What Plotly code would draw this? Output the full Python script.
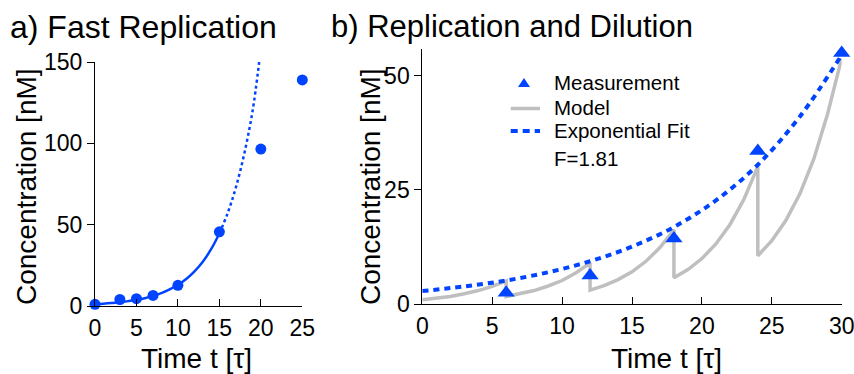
import plotly.graph_objects as go

W, H = 854, 374
FONT = "Liberation Sans, Arial, sans-serif"
BLUE = "#0044ff"
GRAY = "#bfbfbf"

# ---- a) Fast Replication ----
meas_a_t = [0, 3, 5, 7, 10, 15, 20, 25]
meas_a_c = [1.0, 4.0, 4.5, 6.5, 12.7, 45.6, 96.5, 139.0]

fit_a_t = [0, 1, 2, 3, 4, 5, 6, 7, 8, 9, 10, 11, 12, 13, 14, 15]
fit_a_c = [1.1, 1.4, 1.8, 2.3, 3.0, 3.8, 4.8, 6.2, 7.9, 10.2, 13.0, 16.6, 21.3, 27.2, 34.9, 44.6]

ext_a_t = [15, 16, 17, 18, 19, 19.8]
ext_a_c = [44.6, 57.1, 73.1, 93.6, 119.8, 150.0]

# ---- b) Replication and Dilution ----
meas_b_t = [6, 12, 18, 24, 30]
meas_b_c = [2.5, 6.3, 14.4, 33.5, 54.9]

model_t = [0, 1, 2, 3, 4, 5, 6,
           6, 7, 8, 9, 10, 11, 12,
           12, 13, 14, 15, 16, 17, 18,
           18, 19, 20, 21, 22, 23, 24,
           24, 25, 26, 27, 28, 29, 30]
model_c = [1.0, 1.3, 1.7, 2.3, 3.0, 3.9, 5.1,
           1.7, 2.3, 3.0, 4.0, 5.2, 6.9, 9.0,
           3.1, 4.1, 5.4, 7.1, 9.4, 12.4, 16.3,
           5.8, 7.6, 10.0, 13.2, 17.4, 22.9, 30.1,
           10.6, 13.9, 18.3, 24.1, 31.7, 41.7, 53.8]

expfit_t = [0, 3, 6, 9, 12, 15, 18, 21, 24, 27, 30]
expfit_c = [2.9, 3.9, 5.2, 7.0, 9.4, 12.6, 16.9, 22.7, 30.5, 41.0, 54.5]
growth_label = "F=1.81"
legend_labels = ["Measurement", "Model", "Exponential Fit"]


def px(x):
    return x / W


def py(y):
    return 1 - y / H


fig = go.Figure()

# panel a
fig.add_trace(go.Scatter(x=fit_a_t, y=fit_a_c, mode="lines", line=dict(color=BLUE, width=2.5, shape="spline"),
                         xaxis="x", yaxis="y", cliponaxis=False))
fig.add_trace(go.Scatter(x=ext_a_t, y=ext_a_c, mode="lines",
                         line=dict(color=BLUE, width=2.5, dash="3px,3px", shape="spline"),
                         xaxis="x", yaxis="y", cliponaxis=False))
fig.add_trace(go.Scatter(x=meas_a_t, y=meas_a_c, mode="markers", marker=dict(color=BLUE, size=11, symbol="circle"),
                         xaxis="x", yaxis="y", cliponaxis=False))

# panel b
fig.add_trace(go.Scatter(x=model_t, y=model_c, mode="lines", name=legend_labels[1],
                         line=dict(color=GRAY, width=3.5), xaxis="x2", yaxis="y2", cliponaxis=False))
fig.add_trace(go.Scatter(x=expfit_t, y=expfit_c, mode="lines", name=legend_labels[2],
                         line=dict(color=BLUE, width=4, dash="6px,5px", shape="spline"),
                         xaxis="x2", yaxis="y2", cliponaxis=False))
fig.add_trace(go.Scatter(x=meas_b_t, y=meas_b_c, mode="markers", name=legend_labels[0],
                         marker=dict(color=BLUE, size=15, symbol="triangle-up"),
                         xaxis="x2", yaxis="y2", cliponaxis=False))

axis_common = dict(showline=True, linecolor="black", linewidth=1, showgrid=False, zeroline=False,
                   tickcolor="black", ticklen=7, tickwidth=1, automargin=False,
                   ticklabeloverflow="allow",
                   tickfont=dict(family=FONT, size=23, color="black"))

fig.update_layout(
    width=W, height=H, margin=dict(l=0, r=0, t=0, b=0, autoexpand=False),
    paper_bgcolor="white", plot_bgcolor="white",
    font=dict(family=FONT, color="black"),
    showlegend=False,
    xaxis=dict(domain=[px(95), px(302.3)], range=[0, 25], tickvals=[0, 5, 10, 15, 20, 25],
               ticks="inside", anchor="y", ticklabelstandoff=1, **axis_common),
    yaxis=dict(domain=[py(306), py(62)], range=[0, 150], tickvals=[0, 50, 100, 150],
               ticks="outside", anchor="x", **axis_common),
    xaxis2=dict(domain=[px(422.3), px(841.7)], range=[0, 30], tickvals=[0, 5, 10, 15, 20, 25, 30],
                ticks="inside", anchor="y2", ticklabelstandoff=1, **axis_common),
    yaxis2=dict(domain=[py(304.3), py(49)], range=[0, 55.8], tickvals=[0, 25, 50],
                ticks="outside", anchor="x2", **axis_common),
)

# legend keys for panel b, drawn in paper space
shapes = [
    dict(type="path", path=f"M {px(518)},{py(87)} L {px(530)},{py(87)} L {px(524)},{py(78)} Z",
         fillcolor=BLUE, line=dict(width=0)),
    dict(type="line", x0=px(510.7), x1=px(540), y0=py(108.5), y1=py(108.5),
         line=dict(color=GRAY, width=3.5)),
    dict(type="line", x0=px(510.7), x1=px(540), y0=py(131), y1=py(131),
         line=dict(color=BLUE, width=4, dash="7px,5px")),
]
for s in shapes:
    s.update(xref="paper", yref="paper", layer="above")
fig.update_layout(shapes=shapes)

annotations = [
    dict(text="a) Fast Replication", x=px(8), y=py(27), xanchor="left", yanchor="middle",
         font=dict(size=32)),
    dict(text="b) Replication and Dilution", x=px(329), y=py(27), xanchor="left", yanchor="middle",
         font=dict(size=31)),
    dict(text="Concentration [nM]", x=px(26), y=py(187), textangle=-90, xanchor="center", yanchor="middle",
         font=dict(size=28)),
    dict(text="Concentration [nM]", x=px(370), y=py(187), textangle=-90, xanchor="center", yanchor="middle",
         font=dict(size=28)),
    dict(text="Time t [τ]", x=px(196), y=py(358), xanchor="center", yanchor="middle", font=dict(size=28)),
    dict(text="Time t [τ]", x=px(666), y=py(358), xanchor="center", yanchor="middle", font=dict(size=28)),
    dict(text=legend_labels[0], x=px(552), y=py(82.7), xanchor="left", yanchor="middle", font=dict(size=20.5)),
    dict(text=legend_labels[1], x=px(552), y=py(107.7), xanchor="left", yanchor="middle", font=dict(size=20.5)),
    dict(text=legend_labels[2], x=px(552), y=py(130.7), xanchor="left", yanchor="middle", font=dict(size=20.5)),
    dict(text=growth_label, x=px(552), y=py(159), xanchor="left", yanchor="middle", font=dict(size=20.5)),
]
for a in annotations:
    a.update(xref="paper", yref="paper", showarrow=False)
    a["font"].update(family=FONT, color="black")
fig.update_layout(annotations=annotations)

fig.write_html("out.html")
